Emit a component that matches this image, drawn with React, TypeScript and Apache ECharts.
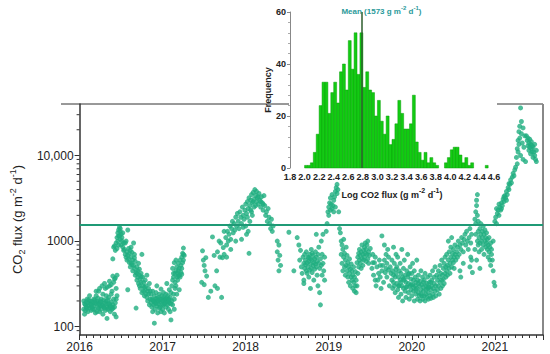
import React, { useEffect, useRef } from 'react';
import * as echarts from 'echarts';

// ---------- axis / tick definitions ----------
const yearMin = 2016;
const yearMax = 2021.58;
const fluxMin = 80;
const fluxMax = 40000;
const yMinorTicks = [90, 200, 300, 400, 500, 600, 700, 800, 900, 2000, 3000, 4000, 5000, 6000, 7000, 8000, 9000, 20000, 30000];
const meanFlux = 1573;
const meanLogFlux = 2.78;

// ---------- histogram (inset) ----------
const histBins = [2.02, 2.06, 2.10, 2.14, 2.18, 2.22, 2.26, 2.30, 2.34, 2.38, 2.42, 2.46, 2.50, 2.54, 2.58, 2.62, 2.66, 2.70, 2.74, 2.78, 2.82, 2.86, 2.90, 2.94, 2.98, 3.02, 3.06, 3.10, 3.14, 3.18, 3.22, 3.26, 3.30, 3.34, 3.38, 3.42, 3.46, 3.50, 3.54, 3.58, 3.62, 3.66, 3.70, 3.74, 3.78, 3.82, 3.86, 3.90, 3.94, 3.98, 4.02, 4.06, 4.10, 4.14, 4.18, 4.22, 4.26, 4.30, 4.34, 4.38, 4.42, 4.46, 4.50, 4.54];
const histFreq = [1, 1, 2, 6, 13, 24, 33, 33, 21, 29, 33, 25, 37, 40, 30, 49, 38, 52, 36, 52, 31, 37, 30, 29, 20, 26, 18, 13, 20, 9, 11, 17, 26, 21, 15, 15, 17, 28, 10, 6, 3, 6, 2, 4, 2, 1, 0, 0, 2, 4, 7, 8, 8, 5, 2, 4, 1, 2, 0, 0, 0, 0, 1, 0];
const histBinWidth = 0.04;

// ---------- daily CO2 flux (year, g m-2 d-1) ----------
const flux2016a = [
  [2016.05, 200], [2016.05, 160], [2016.06, 140], [2016.07, 180], [2016.08, 170], [2016.09, 210], [2016.10, 190], [2016.10, 150],
  [2016.11, 175], [2016.12, 165], [2016.13, 200], [2016.13, 185], [2016.14, 155], [2016.15, 170], [2016.16, 190], [2016.17, 210],
  [2016.17, 175], [2016.18, 160], [2016.19, 145], [2016.20, 185], [2016.20, 230], [2016.21, 200], [2016.22, 170], [2016.23, 165],
  [2016.23, 260], [2016.24, 150], [2016.25, 195], [2016.25, 175], [2016.26, 210], [2016.27, 180], [2016.28, 140], [2016.28, 240],
  [2016.29, 170], [2016.30, 190], [2016.31, 155], [2016.31, 280], [2016.32, 200], [2016.33, 125], [2016.33, 170], [2016.34, 185],
  [2016.35, 220], [2016.35, 165], [2016.36, 300], [2016.37, 175], [2016.37, 150], [2016.38, 195], [2016.39, 160], [2016.39, 260],
  [2016.40, 180], [2016.41, 210], [2016.41, 330], [2016.42, 140], [2016.42, 170], [2016.43, 190], [2016.43, 370], [2016.44, 130],
  [2016.44, 280], [2016.45, 400], [2016.45, 230], [2016.20, 260], [2016.24, 280], [2016.27, 300], [2016.30, 320], [2016.33, 290],
  [2016.36, 340], [2016.38, 310], [2016.40, 390], [2016.42, 360], [2016.12, 230], [2016.18, 205], [2016.22, 190], [2016.26, 160],
  [2016.29, 205], [2016.34, 160], [2016.07, 155], [2016.15, 195], [2016.40, 165], [2016.32, 230], [2016.21, 150], [2016.38, 240],
  [2016.06, 185], [2016.08, 195], [2016.09, 165], [2016.11, 205], [2016.14, 180], [2016.16, 160], [2016.19, 190], [2016.22, 215],
  [2016.24, 185], [2016.26, 195], [2016.28, 175], [2016.30, 165], [2016.32, 185], [2016.34, 205], [2016.36, 185], [2016.38, 170],
];
const flux2016b = [
  [2016.40, 620], [2016.41, 850], [2016.42, 880], [2016.43, 780], [2016.44, 950], [2016.45, 1100], [2016.45, 820], [2016.46, 1250],
  [2016.46, 1000], [2016.47, 1350], [2016.47, 900], [2016.48, 1450], [2016.48, 1150], [2016.49, 1300], [2016.49, 1050], [2016.50, 1200],
  [2016.50, 900], [2016.51, 1100], [2016.51, 1000], [2016.52, 850], [2016.52, 1250], [2016.53, 950], [2016.44, 210],
  [2016.54, 800], [2016.55, 700], [2016.55, 950], [2016.56, 650], [2016.57, 750], [2016.57, 600], [2016.58, 680], [2016.58, 1350],
  [2016.59, 620], [2016.60, 560], [2016.60, 720], [2016.61, 500], [2016.62, 650], [2016.62, 850], [2016.63, 530], [2016.64, 600],
  [2016.64, 450], [2016.65, 950], [2016.65, 520], [2016.66, 480], [2016.67, 580], [2016.67, 400], [2016.68, 430], [2016.69, 500],
  [2016.69, 350], [2016.70, 450], [2016.70, 380], [2016.71, 320], [2016.71, 550], [2016.72, 400], [2016.72, 300], [2016.73, 360],
  [2016.73, 280], [2016.74, 420], [2016.74, 330], [2016.75, 250], [2016.75, 700], [2016.76, 300], [2016.76, 380], [2016.77, 260],
  [2016.77, 330], [2016.78, 290], [2016.78, 230], [2016.79, 350], [2016.79, 270], [2016.80, 240], [2016.80, 300], [2016.81, 220],
  [2016.81, 400], [2016.82, 260], [2016.82, 200], [2016.83, 280], [2016.83, 240], [2016.84, 180], [2016.84, 320], [2016.85, 210],
  [2016.85, 260], [2016.58, 270], [2016.68, 165], [2016.63, 740], [2016.66, 640], [2016.72, 470], [2016.56, 1000], [2016.61, 780],
  [2016.47, 1150], [2016.49, 1400], [2016.53, 780], [2016.59, 820], [2016.62, 560], [2016.66, 700], [2016.69, 420], [2016.74, 380],
];
const flux2017 = [
  [2016.86, 190], [2016.86, 240], [2016.87, 170], [2016.87, 210], [2016.88, 150], [2016.88, 260], [2016.89, 200], [2016.89, 180],
  [2016.90, 230], [2016.90, 110], [2016.91, 190], [2016.91, 160], [2016.92, 250], [2016.92, 210], [2016.93, 175], [2016.93, 300],
  [2016.94, 200], [2016.94, 145], [2016.95, 220], [2016.95, 185], [2016.96, 165], [2016.96, 240], [2016.97, 195], [2016.97, 210],
  [2016.98, 150], [2016.98, 275], [2016.99, 230], [2016.99, 180], [2017.00, 200], [2017.00, 160], [2017.01, 220], [2017.01, 250],
  [2017.02, 185], [2017.02, 145], [2017.03, 210], [2017.03, 190], [2017.04, 240], [2017.04, 170], [2017.05, 200], [2017.05, 320],
  [2017.06, 180], [2017.06, 230], [2017.07, 160], [2017.07, 210], [2017.08, 190], [2017.08, 270], [2017.09, 150], [2017.09, 220],
  [2017.10, 120], [2017.10, 250], [2017.11, 200], [2017.11, 300], [2017.12, 180], [2017.12, 350], [2017.13, 240], [2017.13, 420],
  [2017.14, 210], [2017.14, 160], [2017.15, 280], [2016.93, 215], [2016.97, 170], [2017.02, 205], [2016.90, 195], [2017.06, 195],
  [2016.88, 205], [2016.92, 185], [2016.95, 200], [2016.99, 205], [2017.01, 180], [2017.04, 215], [2017.08, 205], [2017.10, 185],
  [2017.12, 480], [2017.13, 380], [2017.14, 560], [2017.15, 420], [2017.15, 330], [2017.16, 450], [2017.16, 600], [2017.17, 380],
  [2017.17, 500], [2017.18, 420], [2017.18, 350], [2017.19, 550], [2017.19, 450], [2017.20, 400], [2017.20, 480], [2017.21, 380],
  [2017.21, 600], [2017.22, 520], [2017.22, 430], [2017.23, 650], [2017.23, 480], [2017.24, 560], [2017.24, 720], [2017.25, 600],
  [2017.25, 830], [2017.26, 680], [2017.17, 240], [2017.20, 270], [2017.23, 410], [2017.19, 390], [2017.16, 300], [2017.25, 700],
  [2017.47, 330], [2017.48, 770], [2017.49, 600], [2017.50, 520], [2017.50, 310], [2017.51, 450], [2017.52, 640], [2017.53, 390],
  [2017.55, 220], [2017.58, 260], [2017.60, 1120], [2017.62, 680], [2017.63, 300], [2017.65, 450], [2017.66, 280], [2017.68, 1000],
  [2017.70, 950], [2017.71, 220], [2017.72, 640], [2017.73, 840], [2017.74, 700], [2017.66, 750], [2017.69, 650], [2017.74, 1300],
];
const flux2018 = [
  [2017.76, 1100], [2017.77, 900], [2017.78, 1300], [2017.79, 1000], [2017.80, 1200], [2017.81, 1500], [2017.82, 1050], [2017.83, 1400],
  [2017.84, 1700], [2017.85, 1250], [2017.86, 1600], [2017.87, 1350], [2017.88, 1900], [2017.89, 1500], [2017.90, 2100], [2017.91, 1700],
  [2017.92, 1400], [2017.93, 2200], [2017.94, 1900], [2017.95, 1600], [2017.96, 2500], [2017.97, 2000], [2017.98, 1800], [2017.99, 2300],
  [2018.00, 2700], [2018.00, 1500], [2018.01, 2100], [2018.02, 2900], [2018.03, 2400], [2018.03, 1300], [2018.04, 3200], [2018.05, 2600],
  [2018.06, 3000], [2018.07, 3500], [2018.07, 2200], [2018.08, 2800], [2018.09, 3700], [2018.10, 3100], [2018.10, 2500], [2018.11, 4000],
  [2018.12, 3400], [2018.13, 2900], [2018.13, 3800], [2018.14, 3200], [2018.15, 2700], [2018.16, 3600], [2018.17, 3000], [2018.18, 2500],
  [2018.19, 3300], [2018.20, 2800], [2018.21, 2300], [2018.22, 3400], [2018.23, 2600], [2018.24, 2000], [2018.25, 2200], [2018.26, 1700],
  [2018.27, 2400], [2018.28, 1900], [2018.29, 1600], [2018.30, 1400], [2018.31, 1800], [2018.32, 1300], [2018.33, 1500],
  [2017.95, 1050], [2018.04, 720], [2017.88, 1000], [2017.82, 800], [2017.77, 650], [2018.01, 1200], [2018.05, 1700], [2018.08, 2000],
  [2017.97, 1450], [2018.02, 1900], [2018.06, 2300], [2018.09, 2900], [2018.12, 2600], [2018.15, 3300], [2018.18, 2900], [2018.21, 2700],
  [2018.38, 1000], [2018.38, 750], [2018.39, 600], [2018.40, 900], [2018.40, 450], [2018.41, 680], [2018.42, 520], [2018.52, 1270],
  [2018.58, 450], [2018.62, 1100], [2018.64, 900], [2018.65, 600], [2018.66, 780], [2018.67, 500], [2018.68, 420], [2018.69, 650],
  [2018.70, 550], [2018.70, 350], [2018.71, 700], [2018.71, 480], [2018.72, 600], [2018.72, 530], [2018.73, 450], [2018.73, 750],
  [2018.74, 560], [2018.74, 420], [2018.75, 650], [2018.75, 500], [2018.76, 580], [2018.76, 380], [2018.77, 700], [2018.77, 460],
  [2018.78, 540], [2018.78, 620], [2018.79, 480], [2018.79, 800], [2018.80, 600], [2018.80, 430], [2018.81, 520], [2018.81, 680],
  [2018.82, 560], [2018.82, 350], [2018.83, 620], [2018.83, 470], [2018.84, 750], [2018.84, 540], [2018.85, 500], [2018.85, 650],
  [2018.86, 400], [2018.86, 580], [2018.87, 700], [2018.87, 300], [2018.88, 550], [2018.88, 850], [2018.89, 480], [2018.89, 250],
  [2018.90, 180], [2018.90, 620], [2018.91, 520], [2018.91, 1000], [2018.92, 700], [2018.92, 400], [2018.93, 550], [2018.93, 1200],
  [2018.94, 450], [2018.95, 650], [2018.95, 350], [2018.70, 320], [2018.78, 280], [2018.85, 1200], [2018.76, 640], [2018.80, 720],
];
const flux2019 = [
  [2018.97, 1300], [2018.98, 1600], [2018.99, 2200], [2019.00, 2500], [2019.00, 2000], [2019.01, 2800], [2019.02, 2300], [2019.02, 3200],
  [2019.03, 2700], [2019.04, 2400], [2019.04, 3500], [2019.05, 2600], [2019.06, 3000], [2019.06, 2200], [2019.07, 3300], [2019.08, 3800],
  [2019.08, 2500], [2019.09, 4200], [2019.10, 3600], [2019.10, 4600], [2019.11, 4000], [2019.12, 2200], [2019.13, 1400], [2019.14, 1250],
  [2019.15, 1000], [2019.15, 700], [2019.16, 900], [2019.16, 550], [2019.17, 800], [2019.17, 450], [2019.18, 650], [2019.18, 1050],
  [2019.19, 500], [2019.19, 720], [2019.20, 600], [2019.20, 400], [2019.21, 850], [2019.21, 520], [2019.22, 450], [2019.22, 680],
  [2019.23, 380], [2019.23, 560], [2019.24, 500], [2019.24, 330], [2019.25, 620], [2019.25, 420], [2019.26, 470], [2019.26, 300],
  [2019.27, 540], [2019.27, 380], [2019.28, 350], [2019.28, 450], [2019.29, 280], [2019.29, 400], [2019.30, 330], [2019.30, 500],
  [2019.31, 260], [2019.31, 380], [2019.32, 300], [2019.32, 440], [2019.33, 250], [2019.33, 350], [2019.34, 560], [2019.34, 300],
  [2019.35, 650], [2019.35, 420], [2019.36, 720], [2019.36, 500], [2019.37, 600], [2019.37, 800], [2019.38, 550], [2019.38, 680],
  [2019.39, 750], [2019.39, 480], [2019.40, 620], [2019.40, 900], [2019.41, 700], [2019.41, 520], [2019.42, 780], [2019.42, 600],
  [2019.43, 850], [2019.43, 650], [2019.44, 720], [2019.44, 950], [2019.45, 580], [2019.45, 800], [2019.46, 700], [2019.46, 900],
  [2019.47, 620], [2019.47, 1000], [2019.48, 750], [2019.48, 550], [2019.49, 680], [2019.50, 820],
  [2019.52, 480], [2019.53, 700], [2019.54, 400], [2019.55, 560], [2019.56, 350], [2019.56, 650], [2019.57, 300], [2019.58, 500],
  [2019.60, 420], [2019.61, 600], [2019.62, 380], [2019.63, 280], [2019.64, 1150], [2019.64, 450], [2019.65, 520], [2019.66, 330],
  [2019.67, 900], [2019.67, 600], [2019.68, 430], [2019.69, 700], [2019.70, 380], [2019.70, 550], [2019.71, 800], [2019.72, 460],
  [2019.72, 650], [2019.73, 300], [2019.74, 500], [2019.75, 420], [2019.53, 560], [2019.59, 350], [2019.62, 520], [2019.69, 480],
  [2019.76, 600], [2019.76, 350], [2019.77, 450], [2019.77, 280], [2019.78, 850], [2019.78, 400], [2019.79, 300], [2019.79, 550],
  [2019.80, 380], [2019.80, 250], [2019.81, 700], [2019.81, 420], [2019.82, 320], [2019.82, 500], [2019.83, 270], [2019.83, 650],
  [2019.84, 380], [2019.84, 220], [2019.85, 450], [2019.85, 300], [2019.86, 550], [2019.86, 350], [2019.87, 240], [2019.87, 420],
  [2019.88, 800], [2019.88, 300], [2019.89, 380], [2019.89, 200], [2019.90, 480], [2019.90, 280], [2019.91, 350], [2019.91, 600],
  [2019.92, 260], [2019.92, 400], [2019.93, 330], [2019.93, 220], [2019.94, 450], [2019.94, 290], [2019.95, 380], [2019.95, 700],
  [2019.96, 250], [2019.96, 320], [2019.97, 420], [2019.97, 210], [2019.98, 300], [2019.98, 500], [2019.99, 270], [2019.99, 360],
  [2019.78, 330], [2019.81, 470], [2019.84, 300], [2019.87, 330], [2019.90, 360], [2019.93, 290], [2019.96, 410], [2019.99, 310],
];
const flux2020 = [
  [2020.00, 230], [2020.00, 420], [2020.01, 310], [2020.01, 550], [2020.02, 260], [2020.02, 350], [2020.03, 200], [2020.03, 450],
  [2020.04, 300], [2020.04, 380], [2020.05, 240], [2020.05, 330], [2020.06, 280], [2020.06, 600], [2020.07, 210], [2020.07, 350],
  [2020.08, 400], [2020.08, 250], [2020.09, 300], [2020.09, 230], [2020.10, 200], [2020.10, 340], [2020.11, 270], [2020.11, 450],
  [2020.12, 230], [2020.12, 310], [2020.13, 210], [2020.13, 380], [2020.14, 260], [2020.14, 290], [2020.15, 230], [2020.15, 350],
  [2020.16, 200], [2020.16, 420], [2020.17, 270], [2020.17, 240], [2020.18, 320], [2020.18, 220], [2020.19, 280], [2020.19, 380],
  [2020.20, 250], [2020.20, 210], [2020.21, 330], [2020.21, 290], [2020.22, 230], [2020.22, 400], [2020.23, 270], [2020.23, 215],
  [2020.24, 350], [2020.24, 300], [2020.25, 240], [2020.25, 450], [2020.26, 280], [2020.26, 220], [2020.27, 380], [2020.27, 320],
  [2020.28, 260], [2020.28, 500], [2020.29, 300], [2020.29, 230], [2020.30, 400],
  [2020.02, 290], [2020.05, 270], [2020.08, 320], [2020.11, 240], [2020.14, 330], [2020.17, 300], [2020.20, 290], [2020.23, 330],
  [2020.31, 350], [2020.31, 270], [2020.32, 450], [2020.32, 300], [2020.33, 380], [2020.33, 240], [2020.34, 520], [2020.34, 330],
  [2020.35, 420], [2020.35, 280], [2020.36, 350], [2020.36, 600], [2020.37, 400], [2020.37, 300], [2020.38, 480], [2020.38, 360],
  [2020.39, 550], [2020.39, 320], [2020.40, 420], [2020.40, 650], [2020.41, 380], [2020.41, 500], [2020.42, 450], [2020.42, 700],
  [2020.43, 520], [2020.43, 400], [2020.44, 600], [2020.44, 1000], [2020.45, 480], [2020.45, 750], [2020.46, 550], [2020.46, 420],
  [2020.47, 650], [2020.47, 850], [2020.48, 500], [2020.48, 1100], [2020.49, 600], [2020.49, 720], [2020.50, 560], [2020.50, 800],
  [2020.51, 650], [2020.51, 480], [2020.52, 700], [2020.52, 900], [2020.53, 600], [2020.54, 750], [2020.55, 850], [2020.55, 650],
  [2020.56, 1000], [2020.57, 700], [2020.58, 900], [2020.59, 800], [2020.60, 1100], [2020.61, 950], [2020.62, 750], [2020.63, 1050],
  [2020.64, 1200], [2020.65, 900], [2020.66, 1300], [2020.67, 1000], [2020.68, 800], [2020.69, 1100], [2020.70, 1400], [2020.71, 950],
  [2020.72, 1200], [2020.58, 450], [2020.59, 380], [2020.62, 550], [2020.70, 500], [2020.71, 650], [2020.72, 600],
  [2020.76, 1800], [2020.77, 2200], [2020.77, 1600], [2020.78, 2600], [2020.78, 3000], [2020.79, 3500], [2020.79, 2000], [2020.80, 1700],
  [2020.76, 800], [2020.77, 1200], [2020.78, 600], [2020.79, 1000], [2020.80, 1300], [2020.80, 900], [2020.81, 1100], [2020.81, 750],
  [2020.82, 1400], [2020.82, 950], [2020.83, 1200], [2020.83, 1600], [2020.84, 1000], [2020.84, 800], [2020.85, 1300], [2020.85, 1100],
  [2020.86, 900], [2020.86, 1500], [2020.87, 1200], [2020.87, 700], [2020.88, 1000], [2020.88, 1350], [2020.89, 850], [2020.89, 1100],
  [2020.90, 950], [2020.90, 1250], [2020.91, 800], [2020.91, 1050], [2020.92, 650], [2020.92, 900], [2020.93, 1100], [2020.93, 750],
  [2020.94, 850], [2020.94, 600], [2020.95, 950], [2020.95, 520], [2020.96, 700], [2020.96, 800], [2020.97, 600], [2020.98, 450],
  [2020.98, 1000], [2020.99, 330], [2021.00, 300], [2020.82, 480], [2020.73, 430],
];
const flux2021 = [
  [2021.00, 1700], [2021.01, 1900], [2021.02, 1600], [2021.03, 2100], [2021.04, 2300], [2021.05, 2000], [2021.06, 2500], [2021.07, 2300],
  [2021.08, 2800], [2021.09, 2600], [2021.10, 3100], [2021.11, 2900], [2021.12, 3400], [2021.13, 3200], [2021.14, 3800], [2021.15, 3500],
  [2021.16, 4200], [2021.17, 4000], [2021.18, 4600], [2021.19, 5200], [2021.20, 4800], [2021.21, 5600], [2021.22, 6200], [2021.23, 5800],
  [2021.24, 6800], [2021.25, 7300], [2021.02, 2400], [2021.05, 2700], [2021.08, 2400], [2021.11, 3300], [2021.14, 3000], [2021.17, 4700],
  [2021.26, 9500], [2021.27, 12000], [2021.27, 8000], [2021.28, 15000], [2021.28, 11000], [2021.29, 19000], [2021.29, 13500], [2021.30, 22000],
  [2021.30, 16000], [2021.31, 36000], [2021.31, 10000], [2021.32, 25000], [2021.32, 18000], [2021.33, 14000], [2021.34, 21000], [2021.34, 9000],
  [2021.35, 12500], [2021.36, 17000], [2021.37, 8500],
  [2021.38, 17000], [2021.39, 15000], [2021.40, 13000], [2021.40, 16000], [2021.41, 14000], [2021.41, 11500], [2021.42, 12500], [2021.42, 15500],
  [2021.43, 13500], [2021.43, 10500], [2021.44, 12000], [2021.44, 14500], [2021.45, 11000], [2021.45, 13000], [2021.46, 9500], [2021.46, 12500],
  [2021.47, 11000], [2021.48, 10000], [2021.48, 13500], [2021.49, 9000], [2021.50, 8500], [2021.50, 11500],
];

const FONT = '"Liberation Sans", Arial, sans-serif';
const POINT_COLOR = '#1fae80';
const MEAN_COLOR = '#1f9a76';

export default function App() {
  const ref = useRef<HTMLDivElement>(null);

  useEffect(() => {
    if (!ref.current) return;
    const chart = echarts.init(ref.current, undefined, { renderer: 'svg' });

    const fluxData = [...flux2016a, ...flux2016b, ...flux2017, ...flux2018, ...flux2019, ...flux2020, ...flux2021];
    const histData = histBins.map((b, i) => [b, histFreq[i]]);
    const minorTickData = yMinorTicks.map((v) => [yearMin, v]);

    const option: any = {
      animation: false,
      backgroundColor: '#ffffff',
      textStyle: { fontFamily: FONT },
      grid: [
        { left: 61, right: 7, top: 104, bottom: 19 },
        { left: 290, width: 204, top: 12, height: 156 },
      ],
      xAxis: [
        {
          gridIndex: 0,
          type: 'value',
          min: yearMin,
          max: yearMax,
          interval: 1,
          axisLine: { show: true, lineStyle: { color: '#333', width: 1.5 } },
          axisTick: { show: true, inside: false, length: 5, lineStyle: { color: '#333' } },
          minorTick: { show: true, splitNumber: 12, length: 3, lineStyle: { color: '#333' } },
          splitLine: { show: false },
          axisLabel: {
            fontFamily: FONT, fontSize: 12, color: '#222', margin: 6,
            showMaxLabel: false,
            formatter: (v: number) => String(Math.round(v)),
          },
        },
        {
          gridIndex: 1,
          type: 'value',
          min: 1.8,
          max: 4.6,
          interval: 0.2,
          axisLine: { show: false },
          axisTick: { show: false },
          splitLine: { show: false },
          axisLabel: {
            fontFamily: FONT, fontSize: 9, fontWeight: 'bold', color: '#222', margin: 4,
            showMinLabel: true, showMaxLabel: true,
            formatter: (v: number) => v.toFixed(1),
          },
          name: '{a|Log CO2 flux (g m}{u|-2}{a| d}{u|-1}{a|)}',
          nameLocation: 'middle',
          nameGap: 19,
          nameTextStyle: {
            rich: {
              a: { fontFamily: FONT, fontSize: 9, fontWeight: 'bold', color: '#222', lineHeight: 12, verticalAlign: 'bottom' },
              u: { fontFamily: FONT, fontSize: 7, fontWeight: 'bold', color: '#222', lineHeight: 12, verticalAlign: 'top' },
            },
          },
        },
      ],
      yAxis: [
        {
          gridIndex: 0,
          type: 'log',
          logBase: 10,
          min: fluxMin,
          max: fluxMax,
          axisLine: { show: true, lineStyle: { color: '#333', width: 1.5 } },
          axisTick: { show: true, inside: false, length: 5, lineStyle: { color: '#333' } },
          splitLine: { show: false },
          axisLabel: {
            fontFamily: FONT, fontSize: 12, color: '#222', margin: 6,
            showMinLabel: false, showMaxLabel: false,
            formatter: (v: number) => {
              const r = Math.round(v);
              return r >= 10000 ? r.toLocaleString('en-US') : String(r);
            },
          },
          name: '{a|CO}{s|2}{a| flux (g m}{u|-2}{a| d}{u|-1}{a|)}',
          nameLocation: 'middle',
          nameGap: 42,
          nameTextStyle: {
            rich: {
              a: { fontFamily: FONT, fontSize: 13, color: '#222', lineHeight: 18, verticalAlign: 'middle' },
              s: { fontFamily: FONT, fontSize: 9, color: '#222', lineHeight: 18, verticalAlign: 'bottom' },
              u: { fontFamily: FONT, fontSize: 9, color: '#222', lineHeight: 18, verticalAlign: 'top' },
            },
          },
        },
        {
          gridIndex: 1,
          type: 'value',
          min: 0,
          max: 60,
          interval: 20,
          axisLine: { show: true, lineStyle: { color: '#888', width: 1 } },
          axisTick: { show: true, inside: false, length: 3, lineStyle: { color: '#888' } },
          minorTick: { show: true, splitNumber: 5, length: 2, lineStyle: { color: '#aaa' } },
          splitLine: { show: false },
          axisLabel: { fontFamily: FONT, fontSize: 9, fontWeight: 'bold', color: '#222', margin: 4 },
          name: 'Frequency',
          nameLocation: 'middle',
          nameGap: 18,
          nameTextStyle: { fontFamily: FONT, fontSize: 9, fontWeight: 'bold', color: '#222' },
        },
      ],
      graphic: [
        { type: 'line', shape: { x1: 61, y1: 104, x2: 289, y2: 104 }, style: { stroke: '#333', lineWidth: 1 } },
        { type: 'line', shape: { x1: 497, y1: 104, x2: 543, y2: 104 }, style: { stroke: '#333', lineWidth: 1 } },
        { type: 'line', shape: { x1: 543, y1: 104, x2: 543, y2: 335 }, style: { stroke: '#888', lineWidth: 2 } },
      ],
      series: [
        {
          type: 'scatter',
          xAxisIndex: 0,
          yAxisIndex: 0,
          symbol: 'circle',
          symbolSize: 5,
          itemStyle: { color: POINT_COLOR },
          data: fluxData,
          z: 3,
          markLine: {
            silent: true,
            symbol: ['none', 'none'],
            label: { show: false },
            lineStyle: { color: MEAN_COLOR, width: 2, type: 'solid' },
            data: [{ yAxis: meanFlux }],
            z: 4,
          },
        },
        {
          type: 'custom',
          xAxisIndex: 0,
          yAxisIndex: 0,
          data: minorTickData,
          encode: { x: 0, y: 1 },
          silent: true,
          renderItem: (params: any, api: any) => {
            const p = api.coord([api.value(0), api.value(1)]);
            return {
              type: 'line',
              shape: { x1: p[0] - 3, y1: p[1], x2: p[0], y2: p[1] },
              style: { stroke: '#333', lineWidth: 1 },
            };
          },
        },
        {
          type: 'custom',
          xAxisIndex: 1,
          yAxisIndex: 1,
          data: histData,
          encode: { x: 0, y: 1 },
          z: 5,
          renderItem: (params: any, api: any) => {
            const c = api.value(0);
            const h = api.value(1);
            if (!h) return null;
            const p0 = api.coord([c - histBinWidth / 2, 0]);
            const p1 = api.coord([c + histBinWidth / 2, h]);
            return {
              type: 'rect',
              shape: { x: p0[0], y: p1[1], width: p1[0] - p0[0], height: p0[1] - p1[1] },
              style: { fill: '#12cc12', stroke: '#0a9e0a', lineWidth: 0.5 },
            };
          },
          markLine: {
            silent: true,
            symbol: ['none', 'none'],
            lineStyle: { color: '#2e5e2e', width: 1.5, type: 'solid' },
            label: {
              show: true,
              position: 'end',
              distance: 1,
              offset: [20, 4],
              formatter: '{a|Mean (1573 g m}{u|-2}{a| d}{u|-1}{a|)}',
              rich: {
                a: { fontFamily: FONT, fontSize: 8, fontWeight: 'bold', color: '#2a9a9a', lineHeight: 10, verticalAlign: 'bottom' },
                u: { fontFamily: FONT, fontSize: 6, fontWeight: 'bold', color: '#2a9a9a', lineHeight: 10, verticalAlign: 'top' },
              },
            },
            data: [{ xAxis: meanLogFlux }],
            z: 6,
          },
        },
      ],
    };

    chart.setOption(option);
    return () => chart.dispose();
  }, []);

  return <div ref={ref} style={{ position: 'fixed', left: 0, top: 0, width: 550, height: 354 }} />;
}
